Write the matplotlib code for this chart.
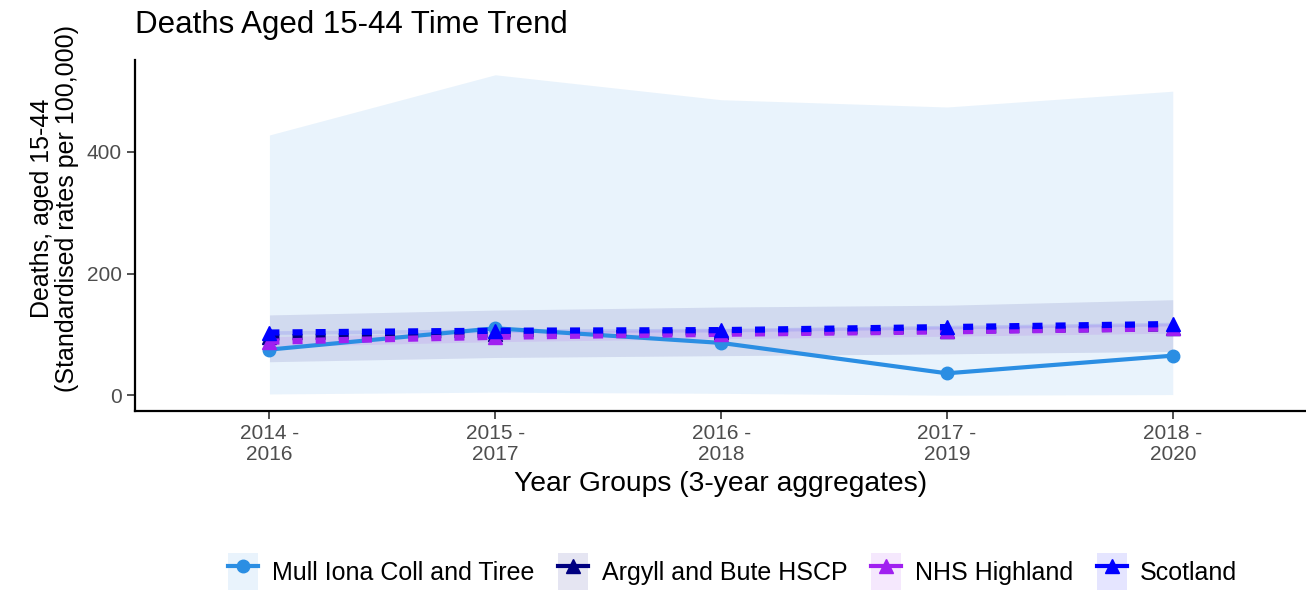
import matplotlib
matplotlib.use("Agg")
import matplotlib.pyplot as plt
from matplotlib.lines import Line2D
from matplotlib.patches import Patch

plt.rcParams["font.family"] = ["Liberation Sans", "DejaVu Sans"]

# --- data ---
year_groups = ["2014 -\n2016", "2015 -\n2017", "2016 -\n2018", "2017 -\n2019", "2018 -\n2020"]
areas = ["Mull Iona Coll and Tiree", "Argyll and Bute HSCP", "NHS Highland", "Scotland"]
colors = ["#2b8ee3", "#000080", "#a020f0", "#0000ff"]

mull_rate = [75, 110, 86, 36, 65]
mull_lower = [2, 5, 3, 0, 1]
mull_upper = [428, 527, 486, 474, 500]

argyll_rate = [95, 100, 104, 106, 110]
argyll_lower = [55, 62, 65, 68, 72]
argyll_upper = [132, 140, 145, 148, 157]

highland_rate = [88, 96, 101, 105, 110]
highland_lower = [80, 88, 93, 97, 102]
highland_upper = [96, 104, 109, 113, 118]

scotland_rate = [103, 106, 107, 112, 117]
scotland_lower = [100, 103, 104, 109, 114]
scotland_upper = [106, 109, 110, 115, 120]

rates = [mull_rate, argyll_rate, highland_rate, scotland_rate]
lowers = [mull_lower, argyll_lower, highland_lower, scotland_lower]
uppers = [mull_upper, argyll_upper, highland_upper, scotland_upper]

x = list(range(len(year_groups)))

fig = plt.figure(figsize=(13.06, 5.90), dpi=100)
ax = fig.add_axes([0.1034, 0.3034, 0.8966, 0.5946])

# confidence ribbons
for lo, hi, c in zip(lowers, uppers, colors):
    ax.fill_between(x, lo, hi, color=c, alpha=0.1, linewidth=0)

# lines
for i, (r, c) in enumerate(zip(rates, colors)):
    if i == 0:
        ax.plot(x, r, color=c, lw=3, marker="o", ms=9, zorder=3)
    else:
        ax.plot(x, r, color=c, lw=4.5, dashes=(1.6, 2.1), dash_capstyle="butt",
                marker="^", ms=10.5, zorder=3 + i)

ax.set_xlim(-0.595, 4.59)
ax.set_ylim(-26, 551)
ax.set_xticks(x)
ax.set_xticklabels(year_groups, fontsize=15, color="#4d4d4d", linespacing=1.15)
ax.set_yticks([0, 200, 400])
ax.tick_params(axis="y", labelsize=15, labelcolor="#4d4d4d")
ax.tick_params(axis="both", color="#333333", length=6, width=1.2)

for side in ["top", "right"]:
    ax.spines[side].set_visible(False)
for side in ["left", "bottom"]:
    ax.spines[side].set_linewidth(1.6)

ax.set_xlabel("Year Groups (3-year aggregates)", fontsize=20.3, labelpad=5)
ax.set_ylabel("Deaths, aged 15-44\n(Standardised rates per 100,000)", fontsize=18,
              linespacing=1.05)
ax.yaxis.set_label_coords(-0.048, 0.578)
fig.text(0.1034, 0.957, "Deaths Aged 15-44 Time Trend", fontsize=22.5, va="center", ha="left")

handles = []
for i, c in enumerate(colors):
    key = Patch(facecolor=c, alpha=0.1, edgecolor="none")
    mk = Line2D([], [], color=c, lw=3, marker="o" if i == 0 else "^", ms=9 if i == 0 else 10.5)
    handles.append((key, mk))

fig.legend(handles, areas, loc="center", bbox_to_anchor=(0.561, 0.031), ncol=4,
           frameon=False, fontsize=18, handlelength=1.2, handleheight=1.9,
           handletextpad=0.55, columnspacing=0.95)

fig.savefig("out.png", dpi=100)
